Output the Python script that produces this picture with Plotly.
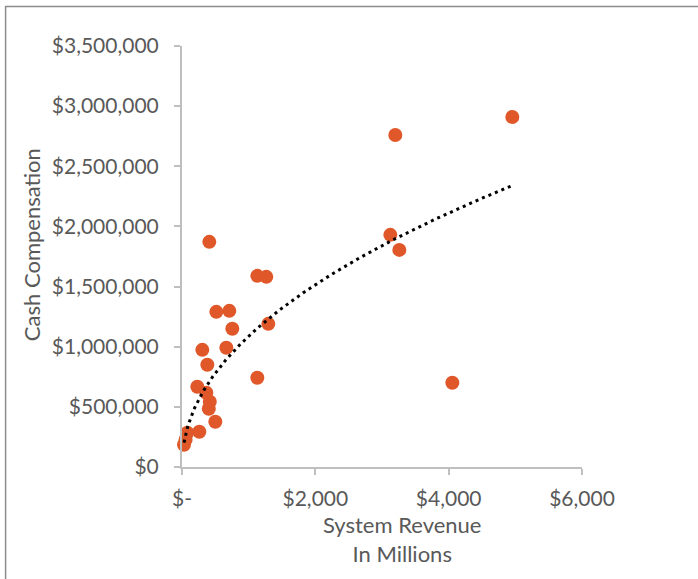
import numpy as np
import plotly.graph_objects as go

# System revenue (millions of $) and cash compensation ($) per system
revenue = [4955, 3200, 3125, 3260, 4055, 410, 1130, 1265, 515, 710,
           755, 1295, 665, 305, 1130, 380, 230, 365, 417, 402,
           500, 260, 80, 54, 30]
compensation = [2910000, 2760000, 1930000, 1805000, 700000, 1872000, 1589000,
                1581000, 1290000, 1298000, 1149000, 1190000, 991000, 974000,
                742000, 850000, 667000, 617000, 542000, 484000, 376000,
                293000, 285000, 227000, 185000]

x_tickvals = [0, 2000, 4000, 6000]
x_ticktext = ["$-", "$2,000", "$4,000", "$6,000"]
y_tickvals = [0, 500000, 1000000, 1500000, 2000000, 2500000, 3000000, 3500000]
y_ticktext = ["$0", "$500,000", "$1,000,000", "$1,500,000", "$2,000,000",
              "$2,500,000", "$3,000,000", "$3,500,000"]

# Power trendline y = a * x^b, fit by least squares in log-log space
xr = np.array(revenue, dtype=float)
yr = np.array(compensation, dtype=float)
b, ln_a = np.polyfit(np.log(xr), np.log(yr), 1)
trend_x = np.linspace(xr.min(), xr.max(), 300)
trend_y = np.exp(ln_a) * trend_x ** b

FONT = "Lato"
GRAY = "#595959"
AXIS = "#BFBFBF"

fig = go.Figure()
fig.add_trace(go.Scatter(
    x=revenue, y=compensation, mode="markers",
    marker=dict(size=14, color="#E0582A", line=dict(width=0)),
    cliponaxis=False, showlegend=False,
))
fig.add_trace(go.Scatter(
    x=trend_x, y=trend_y, mode="lines",
    line=dict(color="black", width=3, dash="3px,4px"),
    cliponaxis=False, showlegend=False,
))

fig.update_layout(
    width=698, height=579,
    margin=dict(l=182, r=116, t=46, b=112),
    paper_bgcolor="white", plot_bgcolor="white",
    font=dict(family=FONT, color=GRAY, size=21),
    xaxis=dict(
        range=[0, 6000], tickvals=x_tickvals, ticktext=x_ticktext,
        showgrid=False, zeroline=False, showline=True, linecolor=AXIS, linewidth=2,
        ticks="outside", ticklen=6, tickcolor=AXIS, tickwidth=2,
        ticklabelstandoff=6, tickfont=dict(size=21, color=GRAY, family=FONT),
    ),
    yaxis=dict(
        range=[0, 3500000], tickvals=y_tickvals, ticktext=y_ticktext,
        showgrid=False, zeroline=False, showline=True, linecolor=AXIS, linewidth=2,
        ticks="outside", ticklen=6, tickcolor=AXIS, tickwidth=2,
        ticklabelstandoff=11, tickfont=dict(size=21, color=GRAY, family=FONT),
    ),
    annotations=[
        dict(text="Cash Compensation", xref="paper", yref="paper",
             x=-0.3775, y=0.527, textangle=-90, showarrow=False,
             xanchor="center", yanchor="middle",
             font=dict(size=22, color=GRAY, family=FONT)),
        dict(text="System Revenue<br>In Millions", xref="paper", yref="paper",
             x=0.549, y=-0.170, showarrow=False,
             xanchor="center", yanchor="middle",
             font=dict(size=22, color=GRAY, family=FONT)),
    ],
    shapes=[
        dict(type="rect", xref="paper", yref="paper",
             x0=-0.441, x1=1.3, y0=-0.3, y1=1.0938,
             line=dict(color="#8C8C8C", width=1.5), layer="below"),
    ],
)

fig.write_html("out.html")
